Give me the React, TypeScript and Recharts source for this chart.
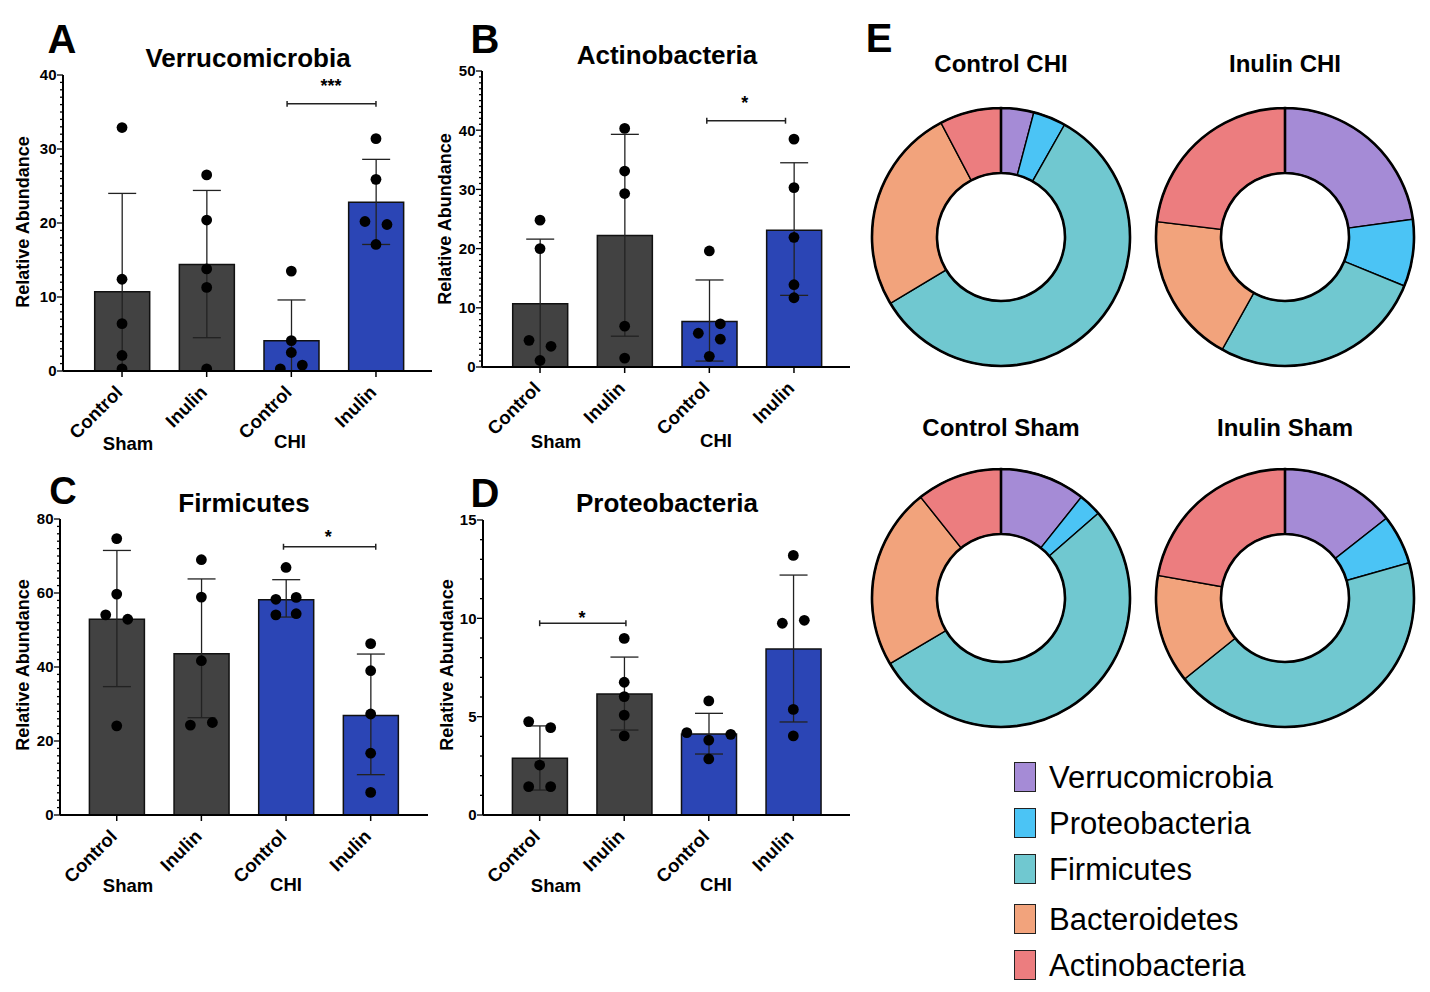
import React from 'react';
import {
  ComposedChart, Bar, Cell, XAxis, YAxis, Scatter, ErrorBar,
  ReferenceLine, ReferenceDot, PieChart, Pie,
} from 'recharts';

const FONT = '"Liberation Sans", Arial, Helvetica, sans-serif';

// ---------- shared categories ----------
const categories = ['Control', 'Inulin', 'Control', 'Inulin'];
const groupLabels = ['Sham', 'CHI'];
const barColors = ['#424242', '#424242', '#2B45B5', '#2B45B5'];

// ---------- A: Verrucomicrobia ----------
const verrMean = [10.7, 14.4, 4.1, 22.8];
const verrLow = [0, 4.5, 0, 17.1];
const verrHigh = [24.0, 24.4, 9.6, 28.6];
const verrPoints: [number, number, number][] = [
  [0, 0, 32.9], [0, 0, 12.4], [0, 0, 6.4], [0, 0, 2.1], [0, 0, 0.3],
  [1, 0, 26.5], [1, 0, 20.4], [1, 0, 13.8], [1, 0, 11.3], [1, 0, 0.3],
  [2, 0, 13.5], [2, 0, 4.1], [2, 0, 2.5], [2, -0.13, 0.3], [2, 0.13, 0.8],
  [3, 0, 31.4], [3, 0, 25.9], [3, -0.13, 20.2], [3, 0.13, 19.8], [3, 0, 17.1],
];
const verrTicks = [0, 10, 20, 30, 40];

// ---------- B: Actinobacteria ----------
const actMean = [10.7, 22.2, 7.7, 23.1];
const actLow = [0, 5.2, 1.0, 12.1];
const actHigh = [21.6, 39.3, 14.7, 34.5];
const actPoints: [number, number, number][] = [
  [0, 0, 24.8], [0, 0, 20.0], [0, -0.13, 4.5], [0, 0.13, 3.5], [0, 0, 1.1],
  [1, 0, 40.3], [1, 0, 33.1], [1, 0, 29.3], [1, 0, 6.9], [1, 0, 1.5],
  [2, 0, 19.6], [2, -0.13, 5.7], [2, 0.13, 7.3], [2, 0.13, 4.7], [2, 0, 1.8],
  [3, 0, 38.5], [3, 0, 30.3], [3, 0, 21.9], [3, 0, 13.9], [3, 0, 11.7],
];
const actTicks = [0, 10, 20, 30, 40, 50];

// ---------- C: Firmicutes ----------
const firmMean = [52.9, 43.6, 58.2, 26.9];
const firmLow = [34.7, 26.3, 53.5, 10.9];
const firmHigh = [71.5, 63.8, 63.6, 43.5];
const firmPoints: [number, number, number][] = [
  [0, 0, 74.7], [0, 0, 59.7], [0, -0.13, 54.1], [0, 0.13, 52.9], [0, 0, 24.1],
  [1, 0, 69.0], [1, 0, 58.9], [1, 0, 41.7], [1, -0.13, 24.3], [1, 0.13, 25.0],
  [2, 0, 66.9], [2, -0.12, 58.3], [2, 0.12, 58.8], [2, -0.12, 54.1], [2, 0.12, 54.4],
  [3, 0, 46.3], [3, 0, 39.0], [3, 0, 27.3], [3, 0, 16.7], [3, 0, 6.1],
];
const firmTicks = [0, 20, 40, 60, 80];

// ---------- D: Proteobacteria ----------
const protMean = [2.88, 6.15, 4.12, 8.44];
const protLow = [1.27, 4.32, 3.10, 4.73];
const protHigh = [4.53, 8.03, 5.17, 12.2];
const protPoints: [number, number, number][] = [
  [0, -0.13, 4.75], [0, 0.13, 4.44], [0, 0, 2.54], [0, -0.13, 1.44], [0, 0.13, 1.44],
  [1, 0, 8.98], [1, 0, 6.75], [1, 0, 6.02], [1, 0, 5.08], [1, 0, 4.02],
  [2, 0, 5.80], [2, -0.26, 4.19], [2, 0.26, 4.10], [2, 0, 3.81], [2, 0, 2.85],
  [3, 0, 13.2], [3, -0.13, 9.75], [3, 0.13, 9.9], [3, 0, 5.37], [3, 0, 4.02],
];
const protTicks = [0, 5, 10, 15];

// ---------- significance brackets: [x1, x2, y, starX, starY, text] ----------
const verrSig: [number, number, number, number, number, string] = [1.95, 3.0, 36.1, 2.47, 38.5, '***'];
const actSig: [number, number, number, number, number, string] = [1.97, 2.9, 41.6, 2.42, 44.6, '*'];
const firmSig: [number, number, number, number, number, string] = [1.97, 3.06, 72.5, 2.5, 75.2, '*'];
const protSig: [number, number, number, number, number, string] = [0, 1.02, 9.75, 0.5, 10.05, '*'];

// ---------- E: donuts ----------
const phyla = ['Verrucomicrobia', 'Proteobacteria', 'Firmicutes', 'Bacteroidetes', 'Actinobacteria'];
const phylaColors = ['#A58BD6', '#4BC4F5', '#70C8D0', '#F2A37C', '#EC7D7F'];
const controlCHI = [4.1, 4.1, 58.2, 25.9, 7.7];
const inulinCHI = [22.8, 8.4, 26.9, 18.8, 23.1];
const controlSham = [10.7, 2.9, 52.9, 22.8, 10.7];
const inulinSham = [14.4, 6.2, 43.6, 13.6, 22.2];
const donutTitles = ['Control CHI', 'Inulin CHI', 'Control Sham', 'Inulin Sham'];

// ---------- helpers ----------
const XTick = (props: any) => {
  const { x, y, payload } = props;
  const ax = x + 1.5;
  const ay = y + 16.5;
  return (
    <text x={ax} y={ay} transform={`rotate(-45 ${ax} ${ay})`} textAnchor="end"
      fontSize={18.5} fontWeight={700} fontFamily={FONT} fill="#000">
      {payload.value}
    </text>
  );
};

const makeYTick = (majors: number[]) => (props: any) => {
  const { x, y, payload } = props;
  const isMajor = majors.some((m) => Math.abs(m - payload.value) < 1e-6);
  const len = isMajor ? 6 : 3;
  return (
    <g>
      <line x1={x} y1={y} x2={x - len} y2={y} stroke="#000" strokeWidth={1.3} />
      {isMajor && (
        <text x={x - len - 0.5} y={y} dy="0.36em" textAnchor="end" fontSize={15}
          fontWeight={700} fontFamily={FONT} fill="#000">{payload.value}</text>
      )}
    </g>
  );
};

const DotShape = (props: any) => <circle cx={props.cx} cy={props.cy} r={5.4} fill="#000" />;

type PanelProps = {
  left: number; top: number; width: number; height: number;
  margin: { top: number; right: number; bottom: number; left: number };
  pad: { left: number; right: number };
  yMax: number; majors: number[]; minorStep: number;
  means: number[]; lows: number[]; highs: number[];
  points: [number, number, number][];
  sig: [number, number, number, number, number, string];
  capHalf: number;
};

function BarPanel(p: PanelProps) {
  const data = categories.map((c, i) => ({
    label: c,
    mean: p.means[i],
    err: [p.means[i] - p.lows[i], p.highs[i] - p.means[i]],
  }));
  const pts = p.points.map(([c, o, v]) => ({ x: c + o, y: v }));
  const ticks: number[] = [];
  for (let v = 0; v <= p.yMax + 1e-9; v += p.minorStep) ticks.push(Math.round(v * 1000) / 1000);
  const [sx1, sx2, sy, tx, ty, txt] = p.sig;
  const axisStyle = { stroke: '#000', strokeWidth: 2 };
  return (
    <div style={{ position: 'absolute', left: p.left, top: p.top, width: p.width, height: p.height }}>
      <ComposedChart width={p.width} height={p.height} data={data} margin={p.margin}>
        <XAxis xAxisId="cat" dataKey="label" type="category" padding={p.pad} height={30}
          axisLine={axisStyle} tickLine={{ stroke: '#000', strokeWidth: 1.5 }} tickSize={6}
          tickMargin={0} tick={XTick} interval={0} />
        <XAxis xAxisId="num" dataKey="x" type="number" domain={[-0.5, 3.5]} padding={p.pad}
          hide allowDataOverflow />
        <YAxis dataKey="y" type="number" domain={[0, p.yMax]} ticks={ticks} interval={0} width={40}
          axisLine={axisStyle} tickLine={false} tickSize={0} tickMargin={0}
          tick={makeYTick(p.majors)} allowDataOverflow />
        <Bar xAxisId="cat" dataKey="mean" barSize={55} stroke="#111" strokeWidth={1.5}
          isAnimationActive={false}>
          {data.map((d, i) => <Cell key={i} fill={barColors[i]} />)}
          <ErrorBar dataKey="err" width={14} stroke="#222" strokeWidth={1.3} direction="y" />
        </Bar>
        <Scatter xAxisId="num" data={pts} dataKey="y" isAnimationActive={false} shape={DotShape} />
        <ReferenceLine xAxisId="num" segment={[{ x: sx1, y: sy }, { x: sx2, y: sy }]}
          stroke="#222" strokeWidth={1.5} ifOverflow="visible" />
        <ReferenceLine xAxisId="num" segment={[{ x: sx1, y: sy - p.capHalf }, { x: sx1, y: sy + p.capHalf }]}
          stroke="#222" strokeWidth={1.5} ifOverflow="visible" />
        <ReferenceLine xAxisId="num" segment={[{ x: sx2, y: sy - p.capHalf }, { x: sx2, y: sy + p.capHalf }]}
          stroke="#222" strokeWidth={1.5} ifOverflow="visible" />
        <ReferenceDot xAxisId="num" x={tx} y={ty} r={0} fill="none" stroke="none" ifOverflow="visible"
          label={{ value: txt, position: 'center', fontSize: 18, fontWeight: 700, fill: '#000', fontFamily: FONT }} />
      </ComposedChart>
    </div>
  );
}

const Txt = ({ x, y, size, weight = 700, rotate = 0, lh = 1, children }: any) => (
  <div style={{
    position: 'absolute', left: x, top: y, transform: `translate(-50%, -50%) rotate(${rotate}deg)`,
    fontSize: size, fontWeight: weight, lineHeight: lh, whiteSpace: 'nowrap', color: '#000', fontFamily: FONT,
  }}>{children}</div>
);

function Donuts() {
  const sets = [controlCHI, inulinCHI, controlSham, inulinSham];
  const centers = [[141, 237], [425, 237], [141, 598], [425, 598]];
  return (
    <div style={{ position: 'absolute', left: 860, top: 0 }}>
      <PieChart width={570} height={740} margin={{ top: 0, right: 0, bottom: 0, left: 0 }}>
        {sets.map((vals, k) => (
          <Pie key={`p${k}`} data={phyla.map((n, i) => ({ name: n, value: vals[i] }))} dataKey="value"
            nameKey="name" cx={centers[k][0]} cy={centers[k][1]} innerRadius={64} outerRadius={129}
            startAngle={90} endAngle={-270} stroke="#000" strokeWidth={1.4} isAnimationActive={false}>
            {phyla.map((n, i) => <Cell key={n} fill={phylaColors[i]} />)}
          </Pie>
        ))}
        {sets.map((_, k) => (
          <Pie key={`o${k}`} data={[{ name: 'all', value: 1 }]} dataKey="value" cx={centers[k][0]}
            cy={centers[k][1]} innerRadius={64} outerRadius={129} startAngle={90} endAngle={-270}
            fill="none" stroke="#000" strokeWidth={2.6} isAnimationActive={false} />
        ))}
      </PieChart>
    </div>
  );
}

export default function App() {
  return (
    <div style={{
      position: 'absolute', left: 0, top: 0, width: 1430, height: 992, background: '#fff',
      overflow: 'hidden', fontFamily: FONT,
    }}>
      <BarPanel left={0} top={0} width={440} height={460}
        margin={{ top: 75, right: 8, bottom: 59, left: 23 }} pad={{ left: 16.7, right: 13.7 }}
        yMax={40} majors={verrTicks} minorStep={1} means={verrMean} lows={verrLow} highs={verrHigh}
        points={verrPoints} sig={verrSig} capHalf={0.4} />
      <BarPanel left={440} top={0} width={420} height={460}
        margin={{ top: 71, right: 10, bottom: 63, left: 2 }} pad={{ left: 15.7, right: 13.7 }}
        yMax={50} majors={actTicks} minorStep={1} means={actMean} lows={actLow} highs={actHigh}
        points={actPoints} sig={actSig} capHalf={0.5} />
      <BarPanel left={0} top={460} width={440} height={460}
        margin={{ top: 59, right: 12, bottom: 75, left: 20 }} pad={{ left: 14.4, right: 15 }}
        yMax={80} majors={firmTicks} minorStep={2} means={firmMean} lows={firmLow} highs={firmHigh}
        points={firmPoints} sig={firmSig} capHalf={0.8} />
      <BarPanel left={440} top={460} width={420} height={460}
        margin={{ top: 60, right: 10, bottom: 75, left: 3 }} pad={{ left: 14.4, right: 14.4 }}
        yMax={15} majors={protTicks} minorStep={1} means={protMean} lows={protLow} highs={protHigh}
        points={protPoints} sig={protSig} capHalf={0.15} />

      {/* Panel A texts */}
      <Txt x={62} y={39} size={40} lh={0.75}>A</Txt>
      <Txt x={248} y={58} size={26}>Verrucomicrobia</Txt>
      <Txt x={23} y={222} size={18} rotate={-90}>Relative Abundance</Txt>
      <Txt x={128} y={444} size={18.5}>{groupLabels[0]}</Txt>
      <Txt x={290} y={442} size={18.5}>{groupLabels[1]}</Txt>

      {/* Panel B texts */}
      <Txt x={485} y={39} size={40} lh={0.75}>B</Txt>
      <Txt x={667} y={55} size={26}>Actinobacteria</Txt>
      <Txt x={445} y={219} size={18} rotate={-90}>Relative Abundance</Txt>
      <Txt x={556} y={442} size={18.5}>{groupLabels[0]}</Txt>
      <Txt x={716} y={441} size={18.5}>{groupLabels[1]}</Txt>

      {/* Panel C texts */}
      <Txt x={63} y={491} size={38} lh={0.75}>C</Txt>
      <Txt x={244} y={503} size={26}>Firmicutes</Txt>
      <Txt x={23} y={665} size={18} rotate={-90}>Relative Abundance</Txt>
      <Txt x={128} y={886} size={18.5}>{groupLabels[0]}</Txt>
      <Txt x={286} y={885} size={18.5}>{groupLabels[1]}</Txt>

      {/* Panel D texts */}
      <Txt x={485} y={493} size={40} lh={0.75}>D</Txt>
      <Txt x={667} y={503} size={26}>Proteobacteria</Txt>
      <Txt x={447} y={665} size={18} rotate={-90}>Relative Abundance</Txt>
      <Txt x={556} y={886} size={18.5}>{groupLabels[0]}</Txt>
      <Txt x={716} y={885} size={18.5}>{groupLabels[1]}</Txt>

      {/* Panel E */}
      <Txt x={879} y={38} size={40} lh={0.75}>E</Txt>
      <Txt x={1001} y={64} size={24}>{donutTitles[0]}</Txt>
      <Txt x={1285} y={64} size={24}>{donutTitles[1]}</Txt>
      <Txt x={1001} y={428} size={24}>{donutTitles[2]}</Txt>
      <Txt x={1285} y={428} size={24}>{donutTitles[3]}</Txt>
      <Donuts />

      {phyla.map((n, i) => {
        const cy = [777, 823, 869, 919, 965][i];
        return (
          <React.Fragment key={n}>
            <div style={{
              position: 'absolute', left: 1014, top: cy - 15, width: 20, height: 28,
              background: phylaColors[i], border: '1.5px solid #222',
            }} />
            <div style={{
              position: 'absolute', left: 1049, top: cy, transform: 'translate(0, -50%)',
              fontSize: 31, fontWeight: 400, lineHeight: 1, whiteSpace: 'nowrap', color: '#000', fontFamily: FONT,
            }}>{n}</div>
          </React.Fragment>
        );
      })}
    </div>
  );
}
